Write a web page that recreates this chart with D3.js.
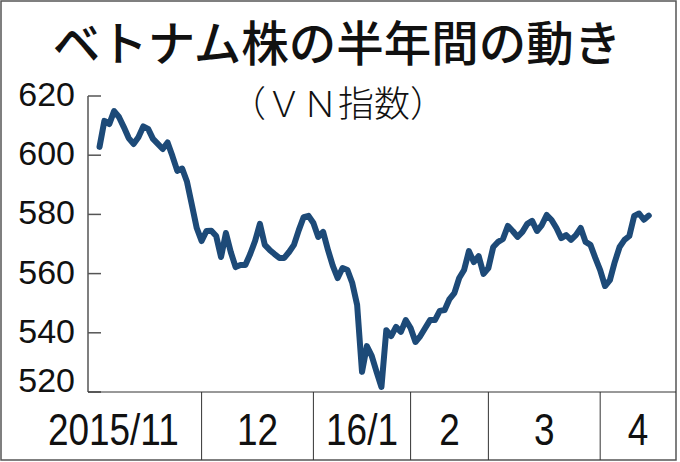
<!DOCTYPE html>
<html>
<head>
<meta charset="utf-8">
<script src="https://cdn.jsdelivr.net/npm/d3@7"></script>
<style>
  body { margin: 0; background: #fff; }
  svg { display: block; }
</style>
</head>
<body>
<div id="chart"></div>
<script>
// data (one value per trading day)
const titleText = 'ベトナム株の半年間の動き';
const subText = '（ＶＮ指数）';
const months = ['2015/11', '12', '16/1', '2', '3', '4'];
const monthStart = [0, 21, 44, 64, 80, 103]; // index of first trading day of each month
const yTicks = [520, 540, 560, 580, 600, 620];
const vnIndex = [
  602.8, 611.6, 610.5, 614.9, 612.9, 609.5, 605.8, 603.8, 606.1, 609.7,
  608.9, 605.5, 603.8, 602.1, 604.3, 599.7, 594.7, 595.5, 591.0, 583.2,
  575.4, 571.0, 574.4, 574.5, 572.7, 565.6, 573.7, 567.3, 562.2, 562.9,
  562.9, 566.6, 571.0, 576.8, 569.7, 568.0, 566.6, 565.3, 565.3, 567.3,
  569.7, 574.7, 579.1, 579.5, 577.1, 572.4, 574.1, 568.0, 562.6, 558.5,
  561.9, 561.2, 556.8, 549.4, 526.8, 535.5, 532.2, 526.8, 521.7, 540.9,
  538.9, 542.0, 540.3, 544.3, 541.6, 536.9, 538.9, 541.6, 544.3, 544.3,
  547.4, 547.7, 551.4, 553.4, 558.5, 561.2, 567.6, 563.9, 565.9, 559.9,
  561.9, 569.0, 570.7, 571.7, 576.1, 574.4, 572.4, 574.1, 576.8, 577.8,
  574.4, 576.4, 579.8, 578.1, 575.4, 572.0, 573.0, 571.4, 573.0, 575.4,
  570.7, 569.7, 565.3, 561.2, 555.8, 557.8, 563.9, 569.0, 571.4, 572.7,
  579.5, 580.3, 578.2, 579.6
];

const width = 680, height = 462;
const svg = d3.select('#chart').append('svg')
  .attr('width', width)
  .attr('height', height);

const plotL = 88, plotR = 676, plotT = 96, plotB = 392, frameB = 460;

const x = d3.scaleLinear().domain([-2.37, 118.6]).range([plotL, plotR]);
const y = d3.scaleLinear().domain([520, 620]).range([plotB, plotT]);

// outer frame
svg.append('rect')
  .attr('x', 1).attr('y', 1)
  .attr('width', plotR - 1).attr('height', frameB - 1)
  .attr('fill', 'none')
  .attr('stroke', '#555')
  .attr('stroke-width', 1.5);

// title
svg.append('text')
  .attr('x', 337).attr('y', 40)
  .attr('text-anchor', 'middle')
  .attr('dominant-baseline', 'central')
  .attr('font-family', '"Noto Sans CJK JP", sans-serif')
  .attr('font-weight', 500)
  .attr('font-size', 47.5)
  .attr('fill', '#111')
  .text(titleText);

svg.append('text')
  .attr('x', 338).attr('y', 101)
  .attr('text-anchor', 'middle')
  .attr('dominant-baseline', 'central')
  .attr('font-family', '"Noto Sans CJK JP", sans-serif')
  .attr('font-weight', 300)
  .attr('font-size', 36)
  .attr('fill', '#111')
  .text(subText);

// y axis: line + inner ticks
svg.append('line')
  .attr('x1', plotL).attr('x2', plotL)
  .attr('y1', y(620)).attr('y2', plotB)
  .attr('stroke', '#555').attr('stroke-width', 1.5);

svg.selectAll('.ytick')
  .data(yTicks)
  .enter().append('line')
  .attr('class', 'ytick')
  .attr('x1', plotL).attr('x2', plotL + 13)
  .attr('y1', d => y(d)).attr('y2', d => y(d))
  .attr('stroke', '#555').attr('stroke-width', 1.5);

svg.selectAll('.ylabel')
  .data(yTicks)
  .enter().append('text')
  .attr('class', 'ylabel')
  .attr('x', 75)
  .attr('y', d => y(d) - (d === 520 ? 12 : 2))
  .attr('text-anchor', 'end')
  .attr('dominant-baseline', 'central')
  .attr('font-family', '"Liberation Sans", Arial, sans-serif')
  .attr('font-size', 34)
  .attr('fill', '#111')
  .text(d => d);

// bottom of plot + month cells
svg.append('line')
  .attr('x1', plotL).attr('x2', plotR)
  .attr('y1', plotB).attr('y2', plotB)
  .attr('stroke', '#333').attr('stroke-width', 1);

const seps = monthStart.slice(1).map(d => x(d));
svg.selectAll('.sep')
  .data(seps)
  .enter().append('line')
  .attr('class', 'sep')
  .attr('x1', d => d).attr('x2', d => d)
  .attr('y1', plotB).attr('y2', frameB)
  .attr('stroke', '#333').attr('stroke-width', 1);

// month labels are set in a narrow face, so squeeze them sideways
const edges = [25].concat(seps, [plotR]);
svg.selectAll('.xlabel')
  .data(months)
  .enter().append('text')
  .attr('class', 'xlabel')
  .attr('transform', (d, i) => `translate(${(edges[i] + edges[i + 1]) / 2},430) scale(0.84,1)`)
  .attr('text-anchor', 'middle')
  .attr('dominant-baseline', 'central')
  .attr('font-family', '"Liberation Sans", Arial, sans-serif')
  .attr('font-size', 44)
  .attr('fill', '#111')
  .text(d => d);

// the index line
const line = d3.line()
  .x((d, i) => x(i))
  .y(d => y(d));

svg.append('path')
  .datum(vnIndex)
  .attr('d', line)
  .attr('fill', 'none')
  .attr('stroke', '#1d4a78')
  .attr('stroke-width', 6)
  .attr('stroke-linejoin', 'round')
  .attr('stroke-linecap', 'round');
</script>
</body>
</html>
